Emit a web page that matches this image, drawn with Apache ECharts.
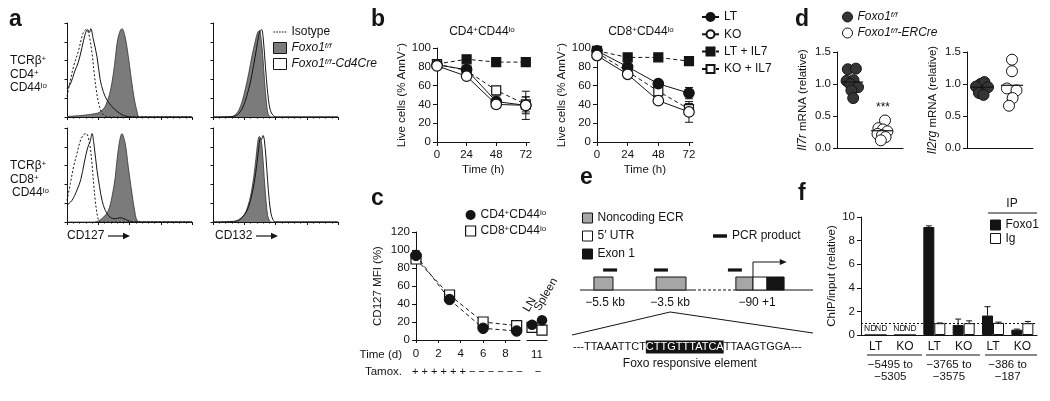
<!DOCTYPE html>
<html><head><meta charset="utf-8">
<script src="https://cdn.jsdelivr.net/npm/echarts@6/dist/echarts.min.js"></script>
<style>html,body{margin:0;padding:0;background:#fff}#c{width:1050px;height:401px}</style>
</head><body><div id="c"></div>
<script>
// ================= DATA =================
// a: flow histograms, points = [position along log fluorescence axis (0-100), % of max]
const cd127Cd4Isotype = [[0,22],[2.7,39],[5.3,54],[9.3,71],[12.8,89],[15.4,93],[17.3,89],[20,68],[21.8,46],[23.4,29],[25.3,15],[28,4],[30.6,1],[33,0],[100,0]];
const cd127Cd4Fl = [[0,0.5],[10,1.5],[20,3],[26,5],[30,10],[32,16],[34,24],[36,37],[38,55],[40,78],[42,90],[44,94],[46,88],[48,74],[50,55],[52,35],[54,18],[56,6],[58,0],[100,0]];
const cd127Cd4Ko = [[0,30],[3,36],[6,48],[9,58],[12,74],[14.5,88],[16.5,93],[18,90],[19,94],[21,83],[24,64],[26.5,40],[29,27],[32,18],[36,11],[40,6],[44,2.5],[48,0.7],[52,0],[100,0]];
const cd127Cd8Isotype = [[0,23],[2.7,41],[5.3,59],[8,73],[10.6,86],[13.3,93],[15.4,94],[18,84],[20,62],[21.3,41],[22.6,23],[24,9],[25.3,2],[27,0],[100,0]];
const cd127Cd8Fl = [[0,0],[20,0],[24,0.5],[29,5],[33,12],[36,27],[38.6,48],[41,77],[44,94],[46.5,84],[49,59],[52,30],[54.5,9],[56,2],[58.5,0],[100,0]];
const cd127Cd8Ko = [[0,18],[4,23],[8,34],[11,45],[13.8,63],[16.5,79],[18.6,86],[20,94],[21.8,80],[24,55],[26,38],[28,23],[30.6,12.5],[34.6,5],[38.6,3.5],[42.5,4.5],[46.5,3],[50.5,0.7],[53,0],[100,0]];
const cd132Cd4Fl = [[0,0],[13.9,0],[17.9,2.5],[20.5,7],[23.2,16],[25.9,30],[28.5,46],[31.2,65],[33.9,81],[35.7,90],[37,92],[38.7,81],[40,62],[41.3,37],[42.7,16],[44,3.5],[45.3,0.7],[47,0],[100,0]];
const cd132Cd4Ko = [[0,0],[16.5,0.7],[20.5,3.5],[24,10.6],[27.2,23],[29.9,37],[32.5,55],[34.7,72],[36.5,86],[37.9,92],[38.9,93],[40,86],[41.3,65],[42.7,41],[44.3,19],[45.9,7],[48,1.8],[51,0],[100,0]];
const cd132Cd8Fl = [[0,0],[15.2,0],[20.5,2.5],[24.5,7],[27.7,16],[30.4,30],[32.5,47],[34.4,68],[35.7,84],[37,91],[38.4,88],[39.7,72],[41,47],[42.4,23],[43.7,7],[45,1.8],[46.5,0],[100,0]];
const cd132Cd8Ko = [[0,0],[19,1],[23.2,4.6],[27.2,12],[30.4,25],[33,42],[35.2,63],[36.8,81],[37.9,89],[38.9,88],[40,92],[41,88],[42.4,68],[43.7,44],[45,23],[46.4,9],[48,2.5],[50,0],[100,0]];

// b: live cells (% AnnV-) over time
const timeH = [0, 24, 48, 72];
const timeTicks = [0, 24, 48, 72];
const cd4LT = [82, 77, 43, 39],   cd4LTErr = [1, 2, 6, 9];
const cd4KO = [81, 70, 40, 39],   cd4KOErr = [1, 2, 4, 15];
const cd4LTIL7 = [83, 88, 85, 85], cd4LTIL7Err = [1, 1, 1, 1];
const cd4KOIL7 = [83, 76, 55, 40], cd4KOIL7Err = [1, 2, 3, 8];
const cd8LT = [97, 80, 62, 52],   cd8LTErr = [1, 2, 2, 6];
const cd8KO = [92, 72, 44, 32],   cd8KOErr = [2, 2, 3, 11];
const cd8LTIL7 = [97, 90, 90, 86], cd8LTIL7Err = [1, 1, 1, 1];
const cd8KOIL7 = [95, 75, 54, 35], cd8KOIL7Err = [1, 2, 3, 6];

// c: CD127 MFI (%) after tamoxifen
const cDays = [0, 3, 6, 9];
const cDayTicks = [0, 2, 4, 6, 8];
const cCd4 = [94, 45, 13, 10], cCd4Err = [5, 2, 1, 1];
const cCd8 = [90, 50, 20, 16], cCd8Err = [3, 2, 1, 1];
const cSites = ['LN', 'Spleen'];
const cCd4Sites = [17, 22];
const cCd8Sites = [14, 11];
const tamox = ['+','+','+','+','+','+','−','−','−','−','−','−'];
const tamoxDay11 = '−';

// d: relative mRNA (group position 0.5 / 1.5, plus horizontal jitter)
const il7rFl = [1.23, 1.24, 1.05, 1.06, 1.00, 0.95, 0.90, 0.78];
const il7rFlJit = [-0.14, 0.13, -0.18, 0.05, -0.06, 0.2, -0.02, 0.04];
const il7rKo = [0.43, 0.31, 0.29, 0.26, 0.22, 0.20, 0.17, 0.12];
const il7rKoJit = [0.1, -0.12, 0.03, 0.18, -0.15, 0.0, 0.12, -0.04];
const il7rMeans = [1.03, 0.27];
const il2rgFl = [1.00, 1.03, 0.96, 0.95, 0.86, 0.83];
const il2rgFlJit = [-0.05, 0.08, -0.2, 0.2, -0.1, 0.05];
const il2rgKo = [1.38, 1.20, 0.93, 0.90, 0.78, 0.66];
const il2rgKoJit = [0.0, 0.0, -0.17, 0.15, 0.02, -0.1];
const il2rgMeans = [0.95, 0.98];

// e: promoter schematic (schematic units 0-100 along the drawn locus)
const locusSolid = [[3.3, 50.2], [67.6, 100]];
const locusDashed = [[50.2, 67.6]];
const ecrBoxes = [[9.1, 17.0], [34.9, 47.3], [68.0, 75.1]];
const utrBoxes = [[75.1, 80.9]];
const exonBoxes = [[80.9, 88.0]];
const pcrProducts = [[12.9, 18.7], [34.0, 39.8], [64.7, 70.5]];
const locusLabels = [['−5.5 kb', 13.7], ['−3.5 kb', 40.7], ['−90 +1', 76.8]];
const seqLeft = '---TTAAATTCT', seqFre = 'CTTGTTTATCA', seqRight = 'TTAAGTGGA---';

// f: ChIP
const chipGenotypes = ['LT', 'KO', 'LT', 'KO', 'LT', 'KO'];
const chipRegions = ['−5495 to\n−5305', '−3765 to\n−3575', '−386 to\n−187'];
const chipDetected = [false, false, true, true, true, true];
const chipFoxo1 = [0, 0, 9.15, 0.85, 1.65, 0.45], chipFoxo1Err = [0, 0, 0.1, 0.5, 0.75, 0.05];
const chipIg = [0, 0, 1.0, 1.0, 1.03, 1.0],       chipIgErr = [0, 0, 0.02, 0.2, 0.06, 0.15];
const chipThreshold = 1;

// ================= STYLE =================
const INK = '#141414', GRAY = '#7b7b7b', DOT = '#353535';
const FONT = '"Liberation Sans", Arial, Helvetica, sans-serif';
const FS = 11.5;
const RICH = {
  i:  {fontStyle:'italic', fontSize:12, fontFamily:FONT, color:INK},
  si: {fontStyle:'italic', fontSize:8, fontFamily:FONT, color:INK, verticalAlign:'top'},
  s:  {fontSize:8, fontFamily:FONT, color:INK, verticalAlign:'top'},
  n:  {fontSize:12, fontFamily:FONT, color:INK}
};
const LABELS = {
  a_iso:'Isotype', a_fl:'{i|Foxo1}{si|f/f}', a_ko:'{i|Foxo1}{si|f/f}{i|-Cd4Cre}',
  c_cd4:'CD4{s|+}CD44{s|lo}', c_cd8:'CD8{s|+}CD44{s|lo}',
  d_fl:'{i|Foxo1}{si|f/f}', d_er:'{i|Foxo1}{si|f/f}{i|-ERCre}'
};
const fmt = n => LABELS[n] || n;

const pair = (xs, ys) => xs.map((x, i) => [x, ys[i]]);
const triple = (xs, ys, es) => xs.map((x, i) => [x, ys[i], es[i]]);

// ---------- axes ----------
const lineS = {show:true, lineStyle:{color:INK, width:1}};
const tickS = (len) => ({show:true, inside:false, length:len, lineStyle:{color:INK, width:1}});
const lblS = (extra) => Object.assign({color:INK, fontSize:FS, fontFamily:FONT}, extra || {});
const nameS = {color:INK, fontSize:FS, fontFamily:FONT, rich:RICH};

function histX(g){ return {gridIndex:g, type:'value', min:0, max:100, interval:25, axisLine:lineS, axisTick:tickS(3), minorTick:{show:true, splitNumber:5, length:1.5, lineStyle:{color:INK}}, axisLabel:{show:false}, splitLine:{show:false}}; }
function histY(g){ return {gridIndex:g, type:'value', min:0, max:100, interval:20, axisLine:lineS, axisTick:tickS(2.5), axisLabel:{show:false}, splitLine:{show:false}}; }

const grids = [
  {left:67, top:23, width:125, height:94},
  {left:213, top:23, width:125, height:94},
  {left:67, top:128, width:125, height:94},
  {left:213, top:128, width:125, height:94},
  {left:437, top:48, width:92.5, height:94},
  {left:597, top:48, width:95.8, height:94},
  {left:416, top:232, width:104, height:108},
  {left:527, top:232, width:20, height:108},
  {left:837, top:52, width:66, height:96},
  {left:967, top:52, width:66, height:96},
  {left:572, top:255, width:241, height:100},
  {left:861, top:217, width:176, height:118}
].map(g => Object.assign(g, {containLabel:false, outerBoundsMode:'none'}));

function bX(g){ return {gridIndex:g, type:'value', min:0, max:75, interval:24, axisLine:lineS, axisTick:Object.assign(tickS(4), {customValues:timeTicks}), axisLabel:lblS({margin:7, customValues:timeTicks, formatter:v => timeTicks.includes(v) ? String(v) : ''}), splitLine:{show:false}, name:'Time (h)', nameLocation:'middle', nameGap:22, nameTextStyle:nameS}; }
function bY(g){ return {gridIndex:g, type:'value', min:0, max:100, interval:20, axisLine:lineS, axisTick:tickS(4), axisLabel:lblS({margin:6}), splitLine:{show:false}, name:'Live cells (% AnnV{s|−})', nameLocation:'middle', nameGap:26, nameTextStyle:nameS}; }

const xAxes = [
  histX(0), histX(1), histX(2), histX(3),
  bX(4), bX(5),
  {gridIndex:6, type:'value', min:0, max:9.3, interval:2, axisLine:lineS, axisTick:Object.assign(tickS(3), {customValues:cDayTicks}), axisLabel:lblS({margin:8, customValues:cDayTicks, formatter:v => cDayTicks.includes(v) ? String(v) : ''}), splitLine:{show:false}},
  {gridIndex:7, type:'category', data:cSites, boundaryGap:true, axisLine:lineS, axisTick:{show:false}, axisLabel:{show:false}, name:'11', nameLocation:'middle', nameGap:9, nameTextStyle:{color:INK, fontSize:FS, fontFamily:FONT, verticalAlign:'top'}},
  {gridIndex:8, type:'value', min:0, max:2.2, axisLine:lineS, axisTick:{show:false}, axisLabel:{show:false}, splitLine:{show:false}},
  {gridIndex:9, type:'value', min:0, max:2.2, axisLine:lineS, axisTick:{show:false}, axisLabel:{show:false}, splitLine:{show:false}},
  {gridIndex:10, type:'value', min:0, max:100, show:false},
  {gridIndex:11, type:'category', data:chipGenotypes, axisLine:lineS, axisTick:{show:false}, axisLabel:lblS({fontSize:12, margin:6, interval:0})},
  {gridIndex:11, type:'category', data:chipRegions, position:'bottom', offset:0, axisLine:{show:false}, axisTick:{show:false}, axisLabel:lblS({margin:24, lineHeight:12, interval:0})}
];
const yAxes = [
  histY(0), histY(1), histY(2), histY(3),
  bY(4), bY(5),
  {gridIndex:6, type:'value', min:0, max:120, interval:20, axisLine:lineS, axisTick:tickS(4), axisLabel:lblS({margin:6}), splitLine:{show:false}, name:'CD127 MFI (%)', nameLocation:'middle', nameGap:32, nameTextStyle:nameS},
  {gridIndex:7, type:'value', min:0, max:120, show:false},
  {gridIndex:8, type:'value', min:0, max:1.5, interval:0.5, axisLine:lineS, axisTick:tickS(4), axisLabel:lblS({margin:6, formatter:v => v.toFixed(1)}), splitLine:{show:false}, name:'{i|Il7r} mRNA (relative)', nameLocation:'middle', nameGap:28, nameTextStyle:nameS},
  {gridIndex:9, type:'value', min:0, max:1.5, interval:0.5, axisLine:lineS, axisTick:tickS(4), axisLabel:lblS({margin:6, formatter:v => v.toFixed(1)}), splitLine:{show:false}, name:'{i|Il2rg} mRNA (relative)', nameLocation:'middle', nameGap:28, nameTextStyle:nameS},
  {gridIndex:10, type:'value', min:0, max:100, inverse:true, show:false},
  {gridIndex:11, type:'value', min:0, max:10, interval:2, axisLine:lineS, axisTick:tickS(4), axisLabel:lblS({margin:6}), splitLine:{show:false}, name:'ChIP/input (relative)', nameLocation:'middle', nameGap:22, nameTextStyle:nameS}
];

// ---------- series helpers ----------
function hist(g, name, data, kind){
  const s = {type:'line', name, xAxisIndex:g, yAxisIndex:g, data, symbol:'none', smooth:0.35, silent:true, z:2,
    lineStyle:{color:INK, width:1}};
  if (kind === 'fill') { s.areaStyle = {color:GRAY, opacity:1}; s.lineStyle = {color:'#333', width:0.8}; s.itemStyle = {color:GRAY}; s.z = 1; }
  if (kind === 'iso') { s.lineStyle = {color:INK, width:1, type:[2,2]}; s.itemStyle = {color:INK}; }
  if (kind === 'ko') { s.itemStyle = {color:'#fff', borderColor:INK}; }
  return s;
}
function errBars(g, data, capW, upOnly, offFn){
  return {type:'custom', xAxisIndex:g, yAxisIndex:g, data, z:3, silent:true,
    renderItem:(params, api) => {
      const x = api.value(0), v = api.value(1), e = api.value(2);
      const off = offFn ? offFn(api, params) : 0;
      const hi = api.coord([x, v + e]), lo = api.coord([x, upOnly ? v : v - e]);
      const cx = hi[0] + off, st = {stroke:INK, lineWidth:1};
      const ch = [
        {type:'line', shape:{x1:cx, y1:hi[1], x2:cx, y2:lo[1]}, style:st},
        {type:'line', shape:{x1:cx - capW/2, y1:hi[1], x2:cx + capW/2, y2:hi[1]}, style:st}];
      if (!upOnly) ch.push({type:'line', shape:{x1:cx - capW/2, y1:lo[1], x2:cx + capW/2, y2:lo[1]}, style:st});
      return {type:'group', children:ch};
    }};
}
function bSeries(g, name, ys, filled, shape, dashed){
  return {type:'line', name, xAxisIndex:g, yAxisIndex:g, data:pair(timeH, ys), symbol:shape, symbolSize:shape === 'circle' ? 10.5 : 9,
    itemStyle:{color:filled ? INK : '#fff', borderColor:INK, borderWidth:1.2, opacity:1},
    lineStyle:{color:INK, width:1, type:dashed ? [4,3] : 'solid'}, z:4, silent:true};
}
function meanLines(g, means){
  return {type:'custom', xAxisIndex:g, yAxisIndex:g, data:means.map((m, i) => [0.5 + i, m]), z:6, silent:true,
    renderItem:(p, api) => {
      const a = api.coord([api.value(0) - 0.37, api.value(1)]), b = api.coord([api.value(0) + 0.37, api.value(1)]);
      return {type:'line', shape:{x1:a[0], y1:a[1], x2:b[0], y2:b[1]}, style:{stroke:INK, lineWidth:1.2}};
    }};
}
function dots(g, name, vals, jit, pos, filled){
  return {type:'scatter', name, xAxisIndex:g, yAxisIndex:g, data:vals.map((v, i) => [pos + jit[i], v]), symbol:'circle', symbolSize:11,
    itemStyle:{color:filled ? DOT : '#fff', borderColor:INK, borderWidth:1, opacity:1}, z:5, silent:true};
}
function boxSeries(name, ranges, fill){
  return {type:'custom', name, xAxisIndex:10, yAxisIndex:10, data:ranges, z:4, silent:true, itemStyle:{color:fill, borderColor:INK, borderWidth:1},
    renderItem:(p, api) => {
      const a = api.coord([api.value(0), 22]), b = api.coord([api.value(1), 35]);
      return {type:'rect', shape:{x:a[0], y:a[1], width:b[0] - a[0], height:b[1] - a[1]}, style:{fill, stroke:INK, lineWidth:1}};
    }};
}
const barOff = sign => (api) => sign * api.size([1, 0])[0] * 0.1875;

// ---------- series ----------
const series = [
  hist(0, 'a_fl', cd127Cd4Fl, 'fill'), hist(0, 'a_iso', cd127Cd4Isotype, 'iso'), hist(0, 'a_ko', cd127Cd4Ko, 'ko'),
  hist(2, 'a_fl', cd127Cd8Fl, 'fill'), hist(2, 'a_iso', cd127Cd8Isotype, 'iso'), hist(2, 'a_ko', cd127Cd8Ko, 'ko'),
  hist(1, 'a_fl', cd132Cd4Fl, 'fill'), hist(1, 'a_ko', cd132Cd4Ko, 'ko'),
  hist(3, 'a_fl', cd132Cd8Fl, 'fill'), hist(3, 'a_ko', cd132Cd8Ko, 'ko'),

  errBars(4, [].concat(triple(timeH, cd4LT, cd4LTErr), triple(timeH, cd4KO, cd4KOErr), triple(timeH, cd4LTIL7, cd4LTIL7Err), triple(timeH, cd4KOIL7, cd4KOIL7Err)), 8, false),
  bSeries(4, 'LT + IL7', cd4LTIL7, true, 'rect', true),
  bSeries(4, 'KO + IL7', cd4KOIL7, false, 'rect', true),
  bSeries(4, 'LT', cd4LT, true, 'circle', false),
  bSeries(4, 'KO', cd4KO, false, 'circle', false),
  errBars(5, [].concat(triple(timeH, cd8LT, cd8LTErr), triple(timeH, cd8KO, cd8KOErr), triple(timeH, cd8LTIL7, cd8LTIL7Err), triple(timeH, cd8KOIL7, cd8KOIL7Err)), 8, false),
  bSeries(5, 'LT + IL7', cd8LTIL7, true, 'rect', true),
  bSeries(5, 'KO + IL7', cd8KOIL7, false, 'rect', true),
  bSeries(5, 'LT', cd8LT, true, 'circle', false),
  bSeries(5, 'KO', cd8KO, false, 'circle', false),

  errBars(6, [].concat(triple(cDays, cCd4, cCd4Err), triple(cDays, cCd8, cCd8Err)), 8, false),
  {type:'line', name:'c_cd4', xAxisIndex:6, yAxisIndex:6, data:pair(cDays, cCd4), symbol:'circle', symbolSize:10.5, z:5, silent:true,
    itemStyle:{color:INK, borderColor:INK, opacity:1}, lineStyle:{color:INK, width:1, type:[4,3]}},
  {type:'line', name:'c_cd8', xAxisIndex:6, yAxisIndex:6, data:pair(cDays, cCd8), symbol:'rect', symbolSize:10, z:4, silent:true,
    itemStyle:{color:'#fff', borderColor:INK, borderWidth:1.2, opacity:1}, lineStyle:{color:INK, width:1, type:[4,3]}},
  {type:'scatter', name:'c_cd4', xAxisIndex:7, yAxisIndex:7, data:pair(cSites, cCd4Sites), symbol:'circle', symbolSize:10.5, z:5, silent:true, itemStyle:{color:INK, opacity:1}},
  {type:'scatter', name:'c_cd8', xAxisIndex:7, yAxisIndex:7, data:pair(cSites, cCd8Sites), symbol:'rect', symbolSize:10, z:4, silent:true, itemStyle:{color:'#fff', borderColor:INK, borderWidth:1.2, opacity:1}},

  dots(8, 'd_fl', il7rFl, il7rFlJit, 0.5, true),
  dots(8, 'd_er', il7rKo, il7rKoJit, 1.5, false),
  meanLines(8, il7rMeans),
  dots(9, 'd_fl', il2rgFl, il2rgFlJit, 0.5, true),
  dots(9, 'd_er', il2rgKo, il2rgKoJit, 1.5, false),
  meanLines(9, il2rgMeans),

  boxSeries('Noncoding ECR', ecrBoxes, '#a6a6a6'),
  boxSeries('5′ UTR', utrBoxes, '#ffffff'),
  boxSeries('Exon 1', exonBoxes, INK),
  {type:'custom', name:'PCR product', xAxisIndex:10, yAxisIndex:10, data:pcrProducts, z:4, silent:true, itemStyle:{color:INK},
    renderItem:(p, api) => {
      const a = api.coord([api.value(0), 15]), b = api.coord([api.value(1), 15]);
      return {type:'rect', shape:{x:a[0], y:a[1] - 1.6, width:b[0] - a[0], height:3.2}, style:{fill:INK}};
    }},
  {type:'custom', xAxisIndex:10, yAxisIndex:10, data:[[0, 0]], z:3, silent:true,
    renderItem:(p, api) => {
      const C = (x, y) => api.coord([x, y]);
      const ch = [];
      locusSolid.forEach(s => { const a = C(s[0], 35), b = C(s[1], 35); ch.push({type:'line', shape:{x1:a[0], y1:a[1], x2:b[0], y2:b[1]}, style:{stroke:INK, lineWidth:1.2}}); });
      locusDashed.forEach(s => { const a = C(s[0], 35), b = C(s[1], 35); ch.push({type:'line', shape:{x1:a[0], y1:a[1], x2:b[0], y2:b[1]}, style:{stroke:INK, lineWidth:1.2, lineDash:[3,2]}}); });
      // transcription start arrow
      const s0 = C(utrBoxes[0][0], 22), s1 = C(utrBoxes[0][0], 7), s2 = C(86.2, 7);
      ch.push({type:'polyline', shape:{points:[s0, s1, s2]}, style:{stroke:INK, lineWidth:1, fill:null}});
      ch.push({type:'polygon', shape:{points:[[s2[0], s2[1] - 3], [s2[0] + 7, s2[1]], [s2[0], s2[1] + 3]]}, style:{fill:INK}});
      locusLabels.forEach(l => { const q = C(l[1], 48); ch.push({type:'text', x:q[0], y:q[1], style:{text:l[0], fill:INK, font:'12px ' + FONT, textAlign:'center', textVerticalAlign:'middle', align:'center', verticalAlign:'middle'}}); });
      // zoom-in lines from the -3.5 kb ECR
      const apex = C(40.7, 57), zl = C(0, 80), zr = C(100, 78);
      ch.push({type:'line', shape:{x1:apex[0], y1:apex[1], x2:zl[0], y2:zl[1]}, style:{stroke:INK, lineWidth:1}});
      ch.push({type:'line', shape:{x1:apex[0], y1:apex[1], x2:zr[0], y2:zr[1]}, style:{stroke:INK, lineWidth:1}});
      const sq = C(0.4, 92);
      ch.push({type:'text', x:sq[0], y:sq[1], style:{text:'{n|' + seqLeft + '}{h|' + seqFre + '}{n|' + seqRight + '}', textAlign:'left', textVerticalAlign:'middle', align:'left', verticalAlign:'middle',
        rich:{n:{fontSize:11, fontFamily:FONT, fill:INK, color:INK}, h:{fontSize:11, fontFamily:FONT, fill:'#ffffff', color:'#ffffff', backgroundColor:INK, padding:[1,0,1,0]}}}});
      const cap = C(48.9, 109);
      ch.push({type:'text', x:cap[0], y:cap[1], style:{text:'Foxo responsive element', fill:INK, font:'12px ' + FONT, textAlign:'center', textVerticalAlign:'middle', align:'center', verticalAlign:'middle'}});
      return {type:'group', children:ch};
    }},

  {type:'bar', name:'Foxo1', xAxisIndex:11, yAxisIndex:11, data:chipFoxo1, barGap:'0%', barCategoryGap:'25%', z:3, silent:true,
    itemStyle:{color:INK, borderColor:INK, borderWidth:1},
    label:{show:true, position:'top', distance:1, fontSize:8.5, fontFamily:FONT, color:INK, formatter:p => chipDetected[p.dataIndex] ? '' : 'ND'},
    markLine:{silent:true, symbol:'none', data:[{yAxis:chipThreshold}], label:{show:false}, lineStyle:{color:INK, width:1, type:[2,2]}}},
  {type:'bar', name:'Ig', xAxisIndex:11, yAxisIndex:11, data:chipIg, barGap:'0%', barCategoryGap:'25%', z:3, silent:true,
    itemStyle:{color:'#fff', borderColor:INK, borderWidth:1},
    label:{show:true, position:'top', distance:1, fontSize:8.5, fontFamily:FONT, color:INK, formatter:p => chipDetected[p.dataIndex] ? '' : 'ND'}},
  errBars(11, chipFoxo1.map((v, i) => [i, v, chipFoxo1Err[i]]).filter((d, i) => chipDetected[i]), 6, true, barOff(-1)),
  errBars(11, chipIg.map((v, i) => [i, v, chipIgErr[i]]).filter((d, i) => chipDetected[i]), 6, true, barOff(1))
];

// ---------- legends ----------
const legTxt = {fontSize:12, fontFamily:FONT, color:INK, rich:RICH};
const legBase = {orient:'vertical', padding:0, selectedMode:false, textStyle:legTxt, formatter:fmt};
// dotted-line icon drawn in a 13x11 box (tiny corner anchors fix the box size)
const dottedIcon = 'path://M0,0h0.01v0.01h-0.01z M12.99,10.99h0.01v0.01h-0.01z M0,4.9h1.6v1.2h-1.6z M2.8,4.9h1.6v1.2h-1.6z M5.6,4.9h1.6v1.2h-1.6z M8.4,4.9h1.6v1.2h-1.6z M11.2,4.9h1.6v1.2h-1.6z';
const legends = [
  Object.assign({}, legBase, {left:273, top:26, itemGap:4, itemWidth:13, itemHeight:11,
    data:[{name:'a_iso', icon:dottedIcon, itemStyle:{color:INK, borderWidth:0}}, {name:'a_fl', icon:'rect', itemStyle:{color:GRAY, borderColor:INK, borderWidth:1}}, {name:'a_ko', icon:'rect', itemStyle:{color:'#fff', borderColor:INK, borderWidth:1}}]}),
  Object.assign({}, legBase, {left:701, top:11, itemGap:5.3, itemWidth:17, itemHeight:10, data:['LT', 'KO', 'LT + IL7', 'KO + IL7']}),
  Object.assign({}, legBase, {left:465, top:209, itemGap:4, itemWidth:10, itemHeight:10,
    data:[{name:'c_cd4', icon:'circle', itemStyle:{color:INK, borderColor:INK}}, {name:'c_cd8', icon:'rect', itemStyle:{color:'#fff', borderColor:INK, borderWidth:1.2}}]}),
  Object.assign({}, legBase, {left:842, top:11, itemGap:4, itemWidth:10, itemHeight:10,
    data:[{name:'d_fl', icon:'circle', itemStyle:{color:DOT, borderColor:INK, borderWidth:1, opacity:1}}, {name:'d_er', icon:'circle', itemStyle:{color:'#fff', borderColor:INK, borderWidth:1, opacity:1}}]}),
  Object.assign({}, legBase, {left:582, top:212, itemGap:6, itemWidth:10, itemHeight:10,
    data:[{name:'Noncoding ECR', icon:'rect', itemStyle:{color:'#a6a6a6', borderColor:INK, borderWidth:1}}, {name:'5′ UTR', icon:'rect', itemStyle:{color:'#fff', borderColor:INK, borderWidth:1}}, {name:'Exon 1', icon:'rect', itemStyle:{color:INK, borderColor:INK, borderWidth:1}}]}),
  Object.assign({}, legBase, {left:713, top:230, itemWidth:14, itemHeight:3.5,
    data:[{name:'PCR product', icon:'rect', itemStyle:{color:INK, borderWidth:0}}]}),
  Object.assign({}, legBase, {left:990, top:219, itemGap:1.5, itemWidth:10, itemHeight:10,
    data:[{name:'Foxo1', icon:'rect', itemStyle:{color:INK, borderColor:INK, borderWidth:1}}, {name:'Ig', icon:'rect', itemStyle:{color:'#fff', borderColor:INK, borderWidth:1}}]})
];

// ---------- text annotations ----------
function T(x, y, text, o){
  o = o || {};
  const al = o.align || 'left', va = o.va || 'middle';
  return {type:'text', x, y, rotation:o.rot || 0, silent:true, z:10,
    style:{text, fill:INK, font:(o.font || (o.size || 12) + 'px ' + FONT), textAlign:al, textVerticalAlign:va, align:al, verticalAlign:va, rich:RICH}};
}
function L(x1, y1, x2, y2, w){ return {type:'line', silent:true, z:10, shape:{x1, y1, x2, y2}, style:{stroke:INK, lineWidth:w || 1}}; }
function Arrow(x1, x2, y){ return [L(x1, y, x2 - 6, y, 1.2), {type:'polygon', silent:true, z:10, shape:{points:[[x2 - 7, y - 3.2], [x2, y], [x2 - 7, y + 3.2]]}, style:{fill:INK}}]; }
const BOLD = 'bold 23px ' + FONT;
const graphics = [
  T(9, 20, 'a', {font:BOLD}), T(371, 20, 'b', {font:BOLD}), T(371, 199, 'c', {font:BOLD}),
  T(795, 20, 'd', {font:BOLD}), T(580, 178, 'e', {font:BOLD}), T(798, 194, 'f', {font:BOLD}),
  T(10, 61, 'TCRβ{s|+}'), T(10, 74.5, 'CD4{s|+}'), T(10, 88, 'CD44{s|lo}'),
  T(10, 166, 'TCRβ{s|+}'), T(10, 179.5, 'CD8{s|+}'), T(12, 193, 'CD44{s|lo}'),
  T(67, 236, 'CD127'), ...Arrow(108, 130, 236),
  T(215, 236, 'CD132'), ...Arrow(256, 278, 236),
  T(482, 32, 'CD4{s|+}CD44{s|lo}', {align:'center'}), T(641, 32, 'CD8{s|+}CD44{s|lo}', {align:'center'}),
  T(402, 355, 'Time (d)', {align:'right', size:FS}),
  T(402, 372, 'Tamox.', {align:'right', size:FS}),
  T(412, 372, tamox.join(' '), {size:11}),
  T(538, 372, tamoxDay11, {align:'center', size:11}),
  T(526, 311, 'LN', {rot:Math.PI / 3, size:FS}),
  T(537, 310, 'Spleen', {rot:Math.PI / 3, size:FS}),
  T(883, 108, '***', {align:'center', size:12}),
  T(1012, 204, 'IP', {align:'center', size:12}), L(988, 213, 1037, 213),
  L(867, 355, 922, 355), L(926, 355, 980, 355), L(985, 355, 1037, 355)
];

const chart = echarts.init(document.getElementById('c'), null, {renderer:'canvas'});
chart.setOption({
  animation:false, backgroundColor:'#fff', textStyle:{fontFamily:FONT, color:INK},
  grid:grids, xAxis:xAxes, yAxis:yAxes, legend:legends, series, graphic:{elements:graphics}
});
</script></body></html>
